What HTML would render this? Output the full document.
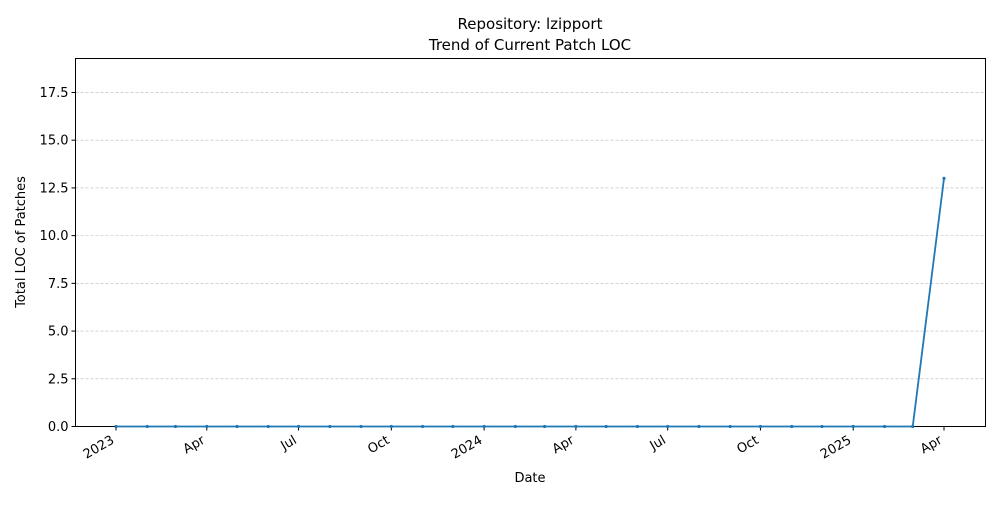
<!DOCTYPE html>
<html><head><meta charset="utf-8"><style>
body{margin:0;background:#fff;font-family:"Liberation Sans","DejaVu Sans",sans-serif}
svg text{font-family:"DejaVu Sans","Liberation Sans",sans-serif}
</style></head><body>
<svg id="chart" width="1000" height="500">
<rect width="1000" height="500" fill="#fff"/>
<text x="530" y="29" font-size="15" text-anchor="middle">Repository: lzipport</text>
<text x="530" y="50" font-size="15" text-anchor="middle">Trend of Current Patch LOC</text>
<g id="grid"></g><g id="axes"></g><g id="series"></g>
<text x="530" y="482" font-size="13" text-anchor="middle">Date</text>
<text x="25" y="242" font-size="13" text-anchor="middle" transform="rotate(-90 25 242)">Total LOC of Patches</text>
</svg>
<script>
const months=["2023-01","2023-02","2023-03","2023-04","2023-05","2023-06","2023-07","2023-08","2023-09","2023-10","2023-11","2023-12","2024-01","2024-02","2024-03","2024-04","2024-05","2024-06","2024-07","2024-08","2024-09","2024-10","2024-11","2024-12","2025-01","2025-02","2025-03","2025-04"];
const locValues=[0,0,0,0,0,0,0,0,0,0,0,0,0,0,0,0,0,0,0,0,0,0,0,0,0,0,0,13];
const yTicks=[0,2.5,5,7.5,10,12.5,15,17.5];
const yTickLabels=["0.0","2.5","5.0","7.5","10.0","12.5","15.0","17.5"];
const xTickDates=["2023-01","2023-04","2023-07","2023-10","2024-01","2024-04","2024-07","2024-10","2025-01","2025-04"];
const xTickLabels=["2023","Apr","Jul","Oct","2024","Apr","Jul","Oct","2025","Apr"];
const L=75.5,R=985.5,T=58.5,B=426.5,yMax=19.28;
const d0=Date.UTC(2023,0,1),d1=Date.UTC(2025,3,1);
function toMs(s){const[a,b]=s.split("-").map(Number);return Date.UTC(a,b-1,1);}
function x(s){return 116+(toMs(s)-d0)/(d1-d0)*(944-116);}
function y(v){return B-v/yMax*(B-T);}
const NS="http://www.w3.org/2000/svg";
function mk(p,t,a){const e=document.createElementNS(NS,t);for(const k in a)e.setAttribute(k,a[k]);p.appendChild(e);return e;}
const grid=document.getElementById("grid"),axes=document.getElementById("axes"),ser=document.getElementById("series");
yTicks.forEach((v,i)=>{
 if(v>0){const g=mk(grid,"line",{x1:L,x2:R,y1:y(v),y2:y(v),stroke:"#b8b8b8","stroke-width":0.6,"stroke-dasharray":"3,2"});
 
 }
 mk(axes,"line",{x1:L-4,x2:L,y1:y(v),y2:y(v),stroke:"#000"});
 const t=mk(axes,"text",{x:L-7,y:y(v)+4.5,"font-size":13,"text-anchor":"end"});t.textContent=yTickLabels[i];
 
 
});
xTickDates.forEach((d,i)=>{
 const X=x(d);mk(axes,"line",{x1:X,x2:X,y1:B,y2:B+4,stroke:"#000"});
 const t=mk(axes,"text",{x:X-1,y:B+16,"font-size":13,"text-anchor":"end",transform:`rotate(-30 ${X-1} ${B+16})`});t.textContent=xTickLabels[i];
 
 
});
const fr=mk(axes,"rect",{x:L,y:T,width:R-L,height:B-T,fill:"none",stroke:"#000","stroke-width":1});


const pts=months.map((m,i)=>x(m)+","+y(locValues[i])).join(" ");
const pl=mk(ser,"polyline",{points:pts,fill:"none",stroke:"#1f77b4","stroke-width":1.8});


months.forEach((m,i)=>{const c=mk(ser,"circle",{cx:x(m),cy:y(locValues[i]),r:1.6,fill:"#1f77b4"});
 
 });
</script>
</body></html>
